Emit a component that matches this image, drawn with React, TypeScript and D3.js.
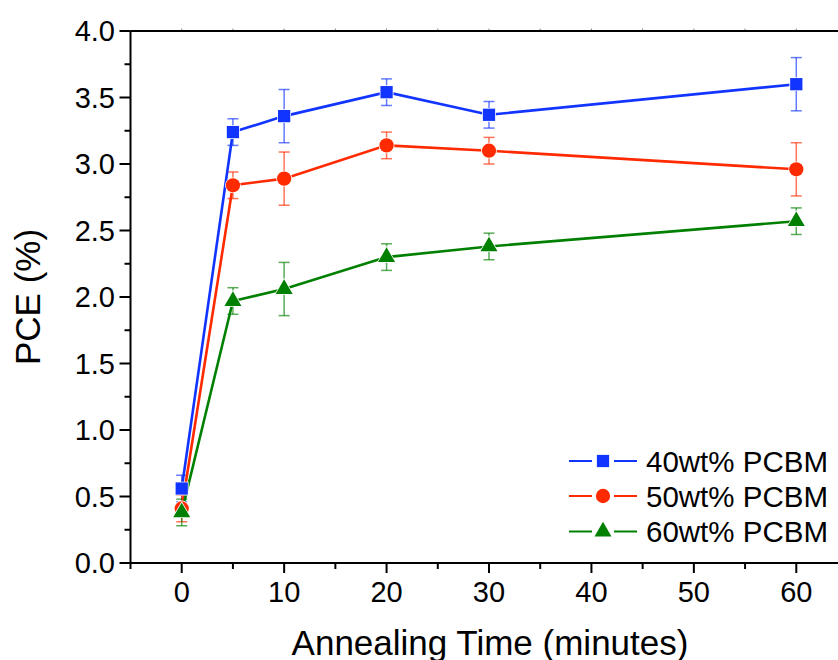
import React from "react";
import * as d3 from "d3";

// Annealing times (minutes)
const times = [0, 5, 10, 20, 30, 60];

// Power conversion efficiency (%) and its standard deviation per blend ratio
const pce40 = [0.56, 3.24, 3.36, 3.54, 3.37, 3.6];
const err40 = [0.1, 0.1, 0.2, 0.1, 0.1, 0.2];
const pce50 = [0.41, 2.84, 2.89, 3.14, 3.1, 2.96];
const err50 = [0.1, 0.1, 0.2, 0.1, 0.1, 0.2];
const pce60 = [0.38, 1.97, 2.06, 2.3, 2.38, 2.57];
const err60 = [0.1, 0.1, 0.2, 0.1, 0.1, 0.1];

const seriesNames = ["40wt% PCBM", "50wt% PCBM", "60wt% PCBM"];
const seriesColors = ["#1234ff", "#ff2a00", "#008000"];

const xTicks = [0, 10, 20, 30, 40, 50, 60];
const yTicks = [0, 0.5, 1, 1.5, 2, 2.5, 3, 3.5, 4];

const W = 838;
const H = 660;
const FONT = "'Liberation Sans', Arial, sans-serif";

type Shape = "square" | "circle" | "triangle";
const shapes: Shape[] = ["square", "circle", "triangle"];

const symbolPath = (shape: Shape) => {
  const type =
    shape === "square" ? d3.symbolSquare : shape === "circle" ? d3.symbolCircle : d3.symbolTriangle;
  const size = shape === "square" ? 150 : shape === "circle" ? 160 : 125;
  return d3.symbol().type(type).size(size)() as string;
};

export default function App() {
  const x = d3.scaleLinear().domain([-5, 65]).range([130.5, 847.5]);
  const y = d3.scaleLinear().domain([0, 4]).range([563, 31]);

  const series = [
    { values: pce40, errors: err40 },
    { values: pce50, errors: err50 },
    { values: pce60, errors: err60 },
  ].map((s, i) => ({
    ...s,
    name: seriesNames[i],
    color: seriesColors[i],
    shape: shapes[i],
  }));

  const line = d3
    .line<number>()
    .x((_, i) => x(times[i]))
    .y((v) => y(v));

  const xMinor = d3.range(-5, 66, 5).filter((t) => !xTicks.includes(t));
  const yMinor = d3.range(0.25, 4, 0.5);
  const x0 = x.range()[0];
  const y0 = y.range()[0];
  const yTop = y.range()[1];

  const legendRows = [461, 496, 531.5];

  return (
    <svg
      width={W}
      height={H}
      style={{ position: "absolute", left: 0, top: 0, background: "#fff" }}
      fontFamily={FONT}
    >
      <rect width={W} height={H} fill="#fff" />

      {/* error bars */}
      {series.map((s) => (
        <g key={"err" + s.name} stroke={s.color} strokeOpacity={0.65} strokeWidth={1.5}>
          {s.values.map((v, i) => {
            const cx = x(times[i]);
            const top = y(v + s.errors[i]);
            const bot = y(v - s.errors[i]);
            return (
              <g key={i}>
                <line x1={cx} x2={cx} y1={top} y2={bot} />
                <line x1={cx - 5.5} x2={cx + 5.5} y1={top} y2={top} />
                <line x1={cx - 5.5} x2={cx + 5.5} y1={bot} y2={bot} />
              </g>
            );
          })}
        </g>
      ))}

      {/* connecting lines */}
      {series.map((s) => (
        <path
          key={"line" + s.name}
          d={line(s.values) as string}
          fill="none"
          stroke={s.color}
          strokeWidth={2.6}
        />
      ))}

      {/* markers */}
      {series.map((s) => (
        <g key={"mk" + s.name}>
          {s.values.map((v, i) => (
            <path
              key={i}
              d={symbolPath(s.shape)}
              transform={`translate(${x(times[i])},${y(v)})`}
              fill={s.color}
              stroke="#fff"
              strokeWidth={1.5}
              paintOrder="stroke"
            />
          ))}
        </g>
      ))}

      {/* axes frame */}
      <line x1={x0} x2={W} y1={y0} y2={y0} stroke="#000" strokeWidth={2} />
      <line x1={x0} x2={W} y1={yTop} y2={yTop} stroke="#000" strokeWidth={2} />
      <line x1={x0} x2={x0} y1={yTop} y2={y0 + 1} stroke="#000" strokeWidth={2} />

      {/* bottom axis ticks */}
      {xTicks.map((t) => (
        <g key={"xt" + t}>
          <line x1={x(t)} x2={x(t)} y1={y0} y2={y0 + 10} stroke="#000" strokeWidth={2} />
          <text x={x(t)} y={602} textAnchor="middle" fontSize={29} fill="#000">
            {t}
          </text>
        </g>
      ))}
      {xMinor.map((t) => (
        <line key={"xm" + t} x1={x(t)} x2={x(t)} y1={y0} y2={y0 + 6} stroke="#000" strokeWidth={2} />
      ))}
      {/* top axis ticks */}
      {d3.range(0, 66, 5).map((t) => (
        <line key={"tt" + t} x1={x(t)} x2={x(t)} y1={yTop - 1} y2={yTop - 2.5} stroke="#888" strokeWidth={1} />
      ))}

      {/* left axis ticks */}
      {yTicks.map((t) => (
        <g key={"yt" + t}>
          <line x1={x0 - 11} x2={x0} y1={y(t)} y2={y(t)} stroke="#000" strokeWidth={2} />
          <text x={115} y={y(t)} dy="0.36em" textAnchor="end" fontSize={29} fill="#000">
            {t.toFixed(1)}
          </text>
        </g>
      ))}
      {yMinor.map((t) => (
        <line key={"ym" + t} x1={x0 - 6} x2={x0} y1={y(t)} y2={y(t)} stroke="#000" strokeWidth={2} />
      ))}

      {/* axis titles */}
      <text x={490} y={655} textAnchor="middle" fontSize={35} fill="#000">
        Annealing Time (minutes)
      </text>
      <text
        transform={`translate(40,${(yTop + y0) / 2}) rotate(-90)`}
        textAnchor="middle"
        fontSize={35}
        fill="#000"
      >
        PCE (%)
      </text>

      {/* legend */}
      {series.map((s, i) => {
        const ly = legendRows[i];
        return (
          <g key={"lg" + s.name}>
            <line x1={569} x2={592} y1={ly} y2={ly} stroke={s.color} strokeWidth={2} />
            <line x1={614} x2={637} y1={ly} y2={ly} stroke={s.color} strokeWidth={2} />
            <path d={symbolPath(s.shape)} transform={`translate(603,${ly})`} fill={s.color} />
            <text x={646} y={ly} dy="0.36em" fontSize={29.5} fill="#000">
              {s.name}
            </text>
          </g>
        );
      })}
    </svg>
  );
}
